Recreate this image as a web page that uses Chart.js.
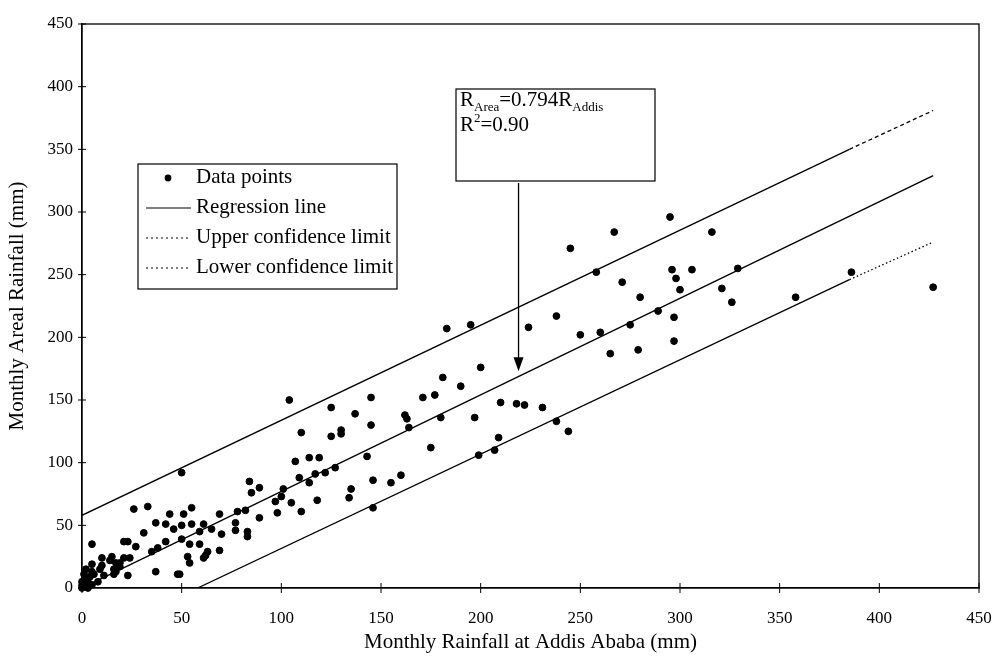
<!DOCTYPE html>
<html>
<head>
<meta charset="utf-8">
<script src="https://cdn.jsdelivr.net/npm/chart.js@4.4.0/dist/chart.umd.min.js"></script>
<style>
  html, body { margin: 0; padding: 0; background: #fff; }
  #wrap { width: 992px; height: 657px; }
</style>
</head>
<body>
<div id="wrap"><canvas id="chart"></canvas></div>
<script>
// monthly rainfall at Addis Ababa (x) vs monthly areal rainfall (y), mm
const addisRain = [
  295, 267, 316, 245, 258, 296, 306, 329, 386, 427, 271, 298, 300, 280, 358, 321, 326, 238, 224, 289,
  275, 297, 250, 260, 265, 279, 297, 200, 210, 218, 222, 231, 238, 209, 207, 244, 199,
  183, 195, 181, 190, 145, 171, 177, 162, 163, 180, 197, 145, 164, 175, 104, 125, 137, 110, 125,
  130, 130, 107, 114, 119, 127, 122, 117, 109, 114, 143, 146, 135, 134, 146, 155, 160,
  84, 85, 89, 101, 100, 97, 118, 105, 55, 55, 61, 59, 65, 69, 78, 82, 77, 77, 83, 83,
  70, 89, 98, 110, 54, 59, 61, 63, 62, 69, 54, 53, 50,
  26, 33, 37, 42, 44, 46, 50, 51, 31, 21, 23, 27, 5, 10, 15, 35, 38, 42, 50, 37, 48, 49,
  5, 2, 1.5, 10, 14, 17, 19, 21, 24, 23, 9, 16, 17, 19, 16, 11, 8, 5, 0, 1, 2, 3, 0, 4, 6, 1, 0, 3, 5
];
const arealRain = [
  296, 284, 284, 271, 252, 254, 254, 255, 252, 240, 244, 247, 238, 232, 232, 239, 228, 217, 208, 221,
  210, 216, 202, 204, 187, 190, 197, 176, 148, 147, 146, 144, 133, 120, 110, 125, 106,
  207, 210, 168, 161, 152, 152, 154, 138, 135, 136, 136, 130, 128, 112, 150, 144, 139, 124, 121,
  126, 123, 101, 104, 104, 96, 92, 91, 88, 84, 105, 86, 79, 72, 64, 84, 90,
  85, 76, 80, 79, 73, 69, 70, 68, 64, 51, 51, 45, 47, 59, 61, 62, 52, 46, 45, 41,
  43, 56, 60, 61, 35, 35, 24, 29, 26, 30, 20, 25, 92,
  63, 65, 52, 51, 59, 47, 50, 59, 44, 37, 37, 33, 35, 24, 25, 29, 32, 37, 39, 13, 11, 11,
  19, 15, 8, 18, 22, 20, 20, 24, 24, 10, 15, 15, 13, 17, 11, 10, 5, 2.5, 0, 3, 1, 5, 5, 9, 11, 11, 2, 0, 13
];

// regression line and confidence limits (end points)
const regressionX = [0, 427];
const regressionY = [0, 329];
const upperX = [0, 385, 427];
const upperY = [58, 350, 381];
const lowerX = [58, 385, 427];
const lowerY = [0, 246, 276];

const axisMin = 0;
const axisMax = 450;
const axisStep = 50;

const toPoints = (xs, ys) => xs.map((x, i) => ({ x: x, y: ys[i] }));

const serif = "'Liberation Serif', 'DejaVu Serif', serif";
Chart.defaults.font.family = serif;
Chart.defaults.color = '#000';

// box, crossing ticks, legend and the annotation
const decorPlugin = {
  id: 'decor',
  afterDraw(chart) {
    const { ctx, chartArea: a, scales: { x, y } } = chart;
    ctx.save();
    ctx.strokeStyle = '#000';
    ctx.lineWidth = 1.3;
    ctx.strokeRect(a.left, a.top, a.right - a.left, a.bottom - a.top);

    ctx.lineWidth = 1;
    for (let v = axisMin; v <= axisMax; v += axisStep) {
      const py = y.getPixelForValue(v);
      ctx.beginPath(); ctx.moveTo(a.left - 4, py); ctx.lineTo(a.left + 4, py); ctx.stroke();
      const px = x.getPixelForValue(v);
      ctx.beginPath(); ctx.moveTo(px, a.bottom - 5); ctx.lineTo(px, a.bottom + 5); ctx.stroke();
    }

    // legend
    const lg = { left: 138, top: 164, right: 397, bottom: 289 };
    ctx.fillStyle = '#fff';
    ctx.fillRect(lg.left, lg.top, lg.right - lg.left, lg.bottom - lg.top);
    ctx.lineWidth = 1.2;
    ctx.strokeRect(lg.left, lg.top, lg.right - lg.left, lg.bottom - lg.top);
    ctx.font = '21px ' + serif;
    ctx.textBaseline = 'middle';
    ctx.textAlign = 'left';
    chart.data.datasets.forEach((ds, i) => {
      const ly = lg.top + 13 + i * 30;
      ctx.fillStyle = '#000';
      if (ds.type === 'scatter') {
        ctx.beginPath(); ctx.arc(168, ly + 1, 3.4, 0, Math.PI * 2); ctx.fill();
      } else {
        ctx.save();
        ctx.lineWidth = 1.2;
        ctx.setLineDash(ds.legendDash || []);
        ctx.beginPath(); ctx.moveTo(146, ly + 1); ctx.lineTo(191, ly + 1); ctx.stroke();
        ctx.restore();
      }
      ctx.fillText(ds.label, 196, ly);
    });

    // regression annotation
    const bx = { left: 456, top: 89, right: 655, bottom: 181 };
    ctx.fillStyle = '#fff';
    ctx.fillRect(bx.left, bx.top, bx.right - bx.left, bx.bottom - bx.top);
    ctx.lineWidth = 1.2;
    ctx.strokeRect(bx.left, bx.top, bx.right - bx.left, bx.bottom - bx.top);
    ctx.fillStyle = '#000';
    ctx.textBaseline = 'alphabetic';
    const big = '21px ' + serif, small = '13px ' + serif;
    let cx = 460;
    const piece = (txt, font, base) => {
      ctx.font = font; ctx.fillText(txt, cx, base); cx += ctx.measureText(txt).width;
    };
    piece('R', big, 106); piece('Area', small, 111); piece('=0.794R', big, 106); piece('Addis', small, 111);
    cx = 460;
    piece('R', big, 131); piece('2', small, 122); piece('=0.90', big, 131);

    // arrow pointing at the regression line
    const ax = x.getPixelForValue(219);
    const tip = y.getPixelForValue(173);
    ctx.lineWidth = 1.3;
    ctx.beginPath(); ctx.moveTo(ax, bx.bottom + 2); ctx.lineTo(ax, tip - 12); ctx.stroke();
    ctx.beginPath(); ctx.moveTo(ax - 5, tip - 14); ctx.lineTo(ax + 5, tip - 14); ctx.lineTo(ax, tip); ctx.closePath(); ctx.fill();
    ctx.restore();
  }
};

new Chart(document.getElementById('chart'), {
  type: 'scatter',
  data: {
    datasets: [
      {
        label: 'Data points',
        type: 'scatter',
        data: toPoints(addisRain, arealRain),
        backgroundColor: '#000',
        borderColor: '#000',
        pointRadius: 3.4,
        pointHoverRadius: 3.4,
        clip: false
      },
      {
        label: 'Regression line',
        type: 'line',
        data: toPoints(regressionX, regressionY),
        borderColor: '#000',
        borderWidth: 1.4,
        pointRadius: 0,
        fill: false
      },
      {
        label: 'Upper confidence limit',
        type: 'line',
        data: toPoints(upperX, upperY),
        borderColor: '#000',
        borderWidth: 1.3,
        pointRadius: 0,
        fill: false,
        legendDash: [2, 3],
        segment: { borderDash: c => c.p0DataIndex >= 1 ? [4, 3] : undefined }
      },
      {
        label: 'Lower confidence limit',
        type: 'line',
        data: toPoints(lowerX, lowerY),
        borderColor: '#000',
        borderWidth: 1.3,
        pointRadius: 0,
        fill: false,
        legendDash: [2, 3],
        segment: { borderDash: c => c.p0DataIndex >= 1 ? [1.5, 2.5] : undefined }
      }
    ]
  },
  options: {
    responsive: true,
    maintainAspectRatio: false,
    animation: false,
    layout: { padding: { top: 24, right: 13, left: 0, bottom: 0 } },
    plugins: { legend: { display: false }, tooltip: { enabled: false } },
    scales: {
      x: {
        type: 'linear',
        min: axisMin,
        max: axisMax,
        ticks: { stepSize: axisStep, padding: 20, font: { size: 17 } },
        grid: { display: false, drawTicks: false },
        border: { display: true, color: '#000', width: 1.3 },
        title: {
          display: true,
          text: 'Monthly Rainfall at Addis Ababa (mm)',
          font: { size: 21 },
          padding: { top: 0, bottom: 2 }
        },
        afterFit: s => { s.height = 69; s.paddingLeft = 0; s.paddingRight = 0; }
      },
      y: {
        type: 'linear',
        min: axisMin,
        max: axisMax,
        ticks: { stepSize: axisStep, padding: 9, font: { size: 17 } },
        grid: { display: false, drawTicks: false },
        border: { display: true, color: '#000', width: 1.3 },
        title: {
          display: true,
          text: 'Monthly Areal Rainfall (mm)',
          font: { size: 21 },
          padding: { top: 5, bottom: 0 }
        },
        afterFit: s => { s.width = 82; s.paddingTop = 0; s.paddingBottom = 0; }
      }
    }
  },
  plugins: [decorPlugin]
});
</script>
</body>
</html>
